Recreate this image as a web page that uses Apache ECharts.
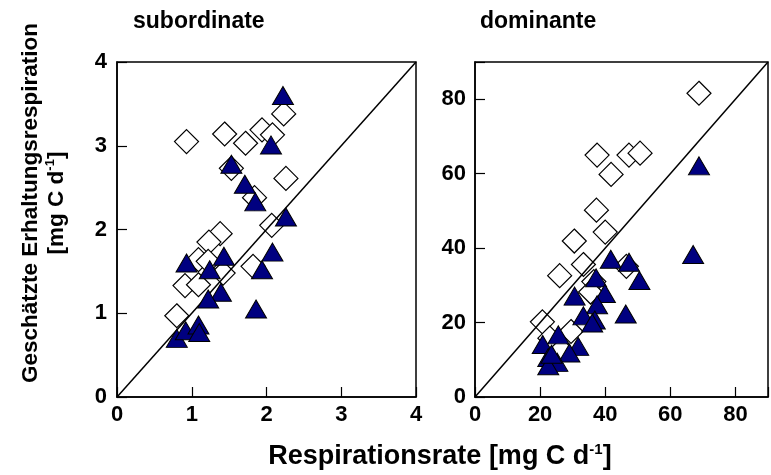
<!DOCTYPE html>
<html>
<head>
<meta charset="utf-8">
<script src="https://cdn.jsdelivr.net/npm/echarts@6/dist/echarts.min.js"></script>
<style>
  html, body { margin: 0; padding: 0; background: #fff; }
  #chart { width: 771px; height: 475px; }
</style>
</head>
<body>
<div id="chart"></div>
<script>
// Subordinate trees: measured respiration (x) vs. estimated maintenance respiration (y)
var subOpenX = [0.93, 1.44, 1.72, 1.94, 2.08, 2.23, 1.53, 2.26, 1.84, 2.07, 1.82, 1.38, 1.23, 1.09, 1.22, 0.91, 1.09, 1.42, 0.80];
var subOpenY = [3.05, 3.14, 3.03, 3.19, 3.13, 3.38, 2.73, 2.61, 2.38, 2.05, 1.56, 1.95, 1.85, 1.64, 1.62, 1.33, 1.34, 1.48, 0.97];
var subFillX = [2.22, 2.06, 1.53, 1.71, 1.85, 2.26, 2.08, 1.94, 1.86, 0.93, 1.24, 1.43, 1.39, 1.22, 0.80, 0.92, 1.09, 1.10];
var subFillY = [3.60, 3.01, 2.78, 2.54, 2.33, 2.15, 1.73, 1.52, 1.05, 1.60, 1.52, 1.68, 1.25, 1.17, 0.70, 0.79, 0.86, 0.77];

// Dominant trees
var domOpenX = [68.8, 37.5, 47.3, 50.7, 41.8, 37.3, 40.0, 30.5, 33.3, 26.0, 46.5, 36.5, 35.5, 20.7, 23.0, 29.5, 26.5];
var domOpenY = [81.6, 65.0, 65.0, 65.5, 59.8, 50.2, 44.3, 41.9, 35.6, 32.6, 35.1, 31.0, 28.2, 20.2, 15.8, 17.6, 12.7];
var domFillX = [68.8, 67.0, 41.7, 47.3, 50.5, 46.3, 37.2, 39.9, 30.6, 37.5, 33.3, 36.8, 36.0, 25.6, 20.8, 31.7, 29.0, 22.5, 25.3, 22.5, 23.5];
var domFillY = [62.1, 38.3, 37.0, 36.2, 31.3, 22.3, 32.0, 27.8, 27.1, 24.8, 21.8, 20.7, 19.9, 16.7, 14.1, 13.6, 11.8, 10.6, 9.3, 8.4, 11.5];

// Axis ticks
var subTicks = [0, 1, 2, 3, 4];
var domTicks = [0, 20, 40, 60, 80];

var FONT = '"Liberation Sans", Arial, sans-serif';
var NAVY = '#000080';

function pairs(xs, ys) {
  return xs.map(function (x, i) { return [x, ys[i]]; });
}

function valueAxis(idx, min, max, step, ticks, margin) {
  return {
    type: 'value', gridIndex: idx, min: min, max: max, interval: step,
    axisLine: { show: true, onZero: false, lineStyle: { color: '#000', width: 1.5 } },
    axisTick: { show: true, inside: true, length: 10, lineStyle: { color: '#000', width: 1.2 } },
    splitLine: { show: false },
    axisLabel: {
      margin: margin, color: '#000', fontFamily: FONT, fontWeight: 'bold', fontSize: 22,
      formatter: function (v) { return ticks.indexOf(v) >= 0 ? String(v) : ''; }
    }
  };
}

var chart = echarts.init(document.getElementById('chart'), null, { renderer: 'canvas' });

var openStyle = { color: '#fff', borderColor: '#000', borderWidth: 1.2, opacity: 1 };
var fillStyle = { color: NAVY, borderColor: '#000', borderWidth: 1, opacity: 1 };

chart.setOption({
  animation: false,
  backgroundColor: '#fff',
  grid: [
    { left: 117, top: 62, width: 299, height: 335, show: true, borderColor: '#000', borderWidth: 1.5 },
    { left: 475, top: 62, width: 300, height: 335, show: true, borderColor: '#000', borderWidth: 1.5 }
  ],
  xAxis: [
    valueAxis(0, 0, 4, 1, subTicks, 7),
    valueAxis(1, 0, 90, 20, domTicks, 7)
  ],
  yAxis: [
    valueAxis(0, 0, 4, 1, subTicks, 10),
    valueAxis(1, 0, 90, 20, domTicks, 9)
  ],
  series: [
    { type: 'scatter', xAxisIndex: 0, yAxisIndex: 0, z: 2, symbol: 'diamond', symbolSize: [24, 24],
      itemStyle: openStyle, data: pairs(subOpenX, subOpenY) },
    { type: 'line', xAxisIndex: 0, yAxisIndex: 0, z: 3, symbol: 'none', silent: true,
      lineStyle: { color: '#000', width: 1.5 }, data: [[0, 0], [4, 4]] },
    { type: 'scatter', xAxisIndex: 0, yAxisIndex: 0, z: 4, symbol: 'triangle', symbolSize: [21, 18],
      itemStyle: fillStyle, data: pairs(subFillX, subFillY) },

    { type: 'scatter', xAxisIndex: 1, yAxisIndex: 1, z: 2, symbol: 'diamond', symbolSize: [24, 24],
      itemStyle: openStyle, data: pairs(domOpenX, domOpenY) },
    { type: 'line', xAxisIndex: 1, yAxisIndex: 1, z: 3, symbol: 'none', silent: true,
      lineStyle: { color: '#000', width: 1.5 }, data: [[0, 0], [90, 90]] },
    { type: 'scatter', xAxisIndex: 1, yAxisIndex: 1, z: 4, symbol: 'triangle', symbolSize: [21, 18],
      itemStyle: fillStyle, data: pairs(domFillX, domFillY) }
  ],
  graphic: [
    { type: 'text', left: 133, top: 10,
      style: { text: 'subordinate', fill: '#000', font: 'bold 23px ' + FONT } },
    { type: 'text', left: 480, top: 10,
      style: { text: 'dominante', fill: '#000', font: 'bold 23px ' + FONT } },
    { type: 'text', x: 440, y: 457,
      style: {
        text: '{b|Respirationsrate [mg C d}{s|-1}{b|]}', align: 'center', verticalAlign: 'middle',
        rich: {
          b: { fontFamily: FONT, fontWeight: 'bold', fontSize: 27, fill: '#000', lineHeight: 30 },
          s: { fontFamily: FONT, fontWeight: 'bold', fontSize: 15, fill: '#000', verticalAlign: 'top', lineHeight: 30 }
        }
      } },
    { type: 'text', x: 44, y: 203, rotation: Math.PI / 2,
      style: {
        text: '{b|Geschätzte Erhaltungsrespiration}\n{b|[mg C d}{s|-1}{b|]}', align: 'center', verticalAlign: 'middle',
        rich: {
          b: { fontFamily: FONT, fontWeight: 'bold', fontSize: 22.5, fill: '#000', lineHeight: 26, align: 'center' },
          s: { fontFamily: FONT, fontWeight: 'bold', fontSize: 13, fill: '#000', verticalAlign: 'top', lineHeight: 26 }
        }
      } }
  ]
});
</script>
</body>
</html>
